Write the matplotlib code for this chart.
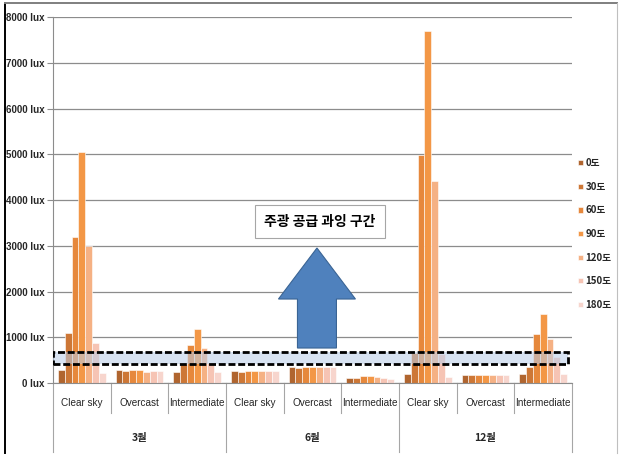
import numpy as np
import matplotlib
matplotlib.use("Agg")
import matplotlib.pyplot as plt
from matplotlib import font_manager
from matplotlib.patches import Rectangle, FancyArrow

# 방위각별 조도 측정값 [lux]
months = ["3월", "6월", "12월"]
skies = ["Clear sky", "Overcast", "Intermediate"]
angles = ["0도", "30도", "60도", "90도", "120도", "150도", "180도"]

lux_mar = [
    [280, 1100, 3200, 5050, 3000, 880, 210],   # Clear sky
    [280, 260, 280, 280, 250, 270, 270],       # Overcast
    [240, 420, 830, 1170, 770, 440, 230],      # Intermediate
]
lux_jun = [
    [270, 250, 270, 270, 260, 260, 260],
    [350, 330, 350, 360, 350, 340, 340],
    [120, 120, 150, 160, 130, 100, 80],
]
lux_dec = [
    [190, 650, 4980, 7700, 4420, 640, 130],
    [170, 170, 170, 180, 170, 170, 170],
    [195, 360, 1070, 1500, 960, 560, 200],
]
excess_band = (415, 680)   # 주광 공급 과잉 구간 하한/상한

colors = ["#B0652F", "#CD7736", "#E6883C", "#F39746", "#F5B184", "#F6C4B4", "#F7D5CD"]

names = {f.name for f in font_manager.fontManager.ttflist}
narrow = "Liberation Sans Narrow" if "Liberation Sans Narrow" in names else "Liberation Sans"
kr = ["Noto Sans CJK KR", "DejaVu Sans"]

fig = plt.figure(figsize=(6.21, 4.55), dpi=100)
ax = fig.add_axes([0.0853, 0.1582, 0.8357, 0.8044])

data = np.array(lux_mar + lux_jun + lux_dec)   # 9 x 7
ncat = data.shape[0]
bw = 0.83 / len(angles)
centers = np.arange(ncat) + 0.5
for j, name in enumerate(angles):
    ax.bar(centers + (j - 3) * bw, data[:, j], width=bw, color=colors[j],
           edgecolor="white", linewidth=0.4, label=name, zorder=2)

ax.set_xlim(0, ncat)
ax.set_ylim(0, 8000)
ax.set_yticks(np.arange(0, 8001, 1000))
ax.set_yticklabels(["%d lux" % v for v in range(0, 8001, 1000)],
                   family=narrow, fontsize=7, fontweight="bold", color="#262626")
ax.yaxis.grid(True, color="#8C8C8C", linewidth=0.9, zorder=0)
ax.set_axisbelow(True)
ax.tick_params(axis="y", length=4, color="#8C8C8C", pad=2)
ax.tick_params(axis="x", length=0, labelbottom=False)
for s in ["top", "right"]:
    ax.spines[s].set_visible(False)
ax.spines["left"].set_color("#8C8C8C")
ax.spines["bottom"].set_color("#8C8C8C")

# 계층형 x축 라벨
trans = ax.get_xaxis_transform()
for i in range(ncat):
    ax.text(centers[i], -0.054, skies[i % 3], transform=trans, ha="center",
            va="center", family=narrow, fontsize=7.2, color="#262626")
for i in range(ncat + 1):
    low = -0.189 if i % 3 == 0 else -0.082
    ax.plot([i, i], [0, low], transform=trans, color="#A6A6A6",
            linewidth=0.8, clip_on=False)
for m, name in enumerate(months):
    ax.text(m * 3 + 1.5, -0.150, name, transform=trans, ha="center",
            va="center", family=kr, fontsize=7.5, fontweight="bold", color="#262626")

# 과잉 구간 띠
band = Rectangle((0.0, excess_band[0]), 8.93, excess_band[1] - excess_band[0],
                 facecolor="#B9CDE8", alpha=0.55, edgecolor="none", zorder=3)
ax.add_patch(band)
ax.add_patch(Rectangle((0.0, excess_band[0]), 8.93, excess_band[1] - excess_band[0],
                       facecolor="none", edgecolor="black", linewidth=2,
                       linestyle=(0, (2.5, 1)), zorder=4))

# 화살표와 설명 상자
ax.add_patch(FancyArrow(4.578, 765, 0, 2186, width=0.676, head_width=1.335,
                        head_length=1115, length_includes_head=True,
                        facecolor="#4F81BD", edgecolor="#3A6494",
                        linewidth=0.8, zorder=5))
ax.text(4.63, 3530, "주광 공급 과잉 구간", ha="center", va="center",
        family=kr, fontsize=10, fontweight="bold", zorder=6,
        bbox=dict(boxstyle="square,pad=0.7", facecolor="white",
                  edgecolor="#A6A6A6", linewidth=0.8))

leg = ax.legend(loc="upper left", bbox_to_anchor=(1.005, 0.625), frameon=False,
                prop={"family": kr, "size": 7, "weight": "bold"}, handlelength=0.45,
                handleheight=0.45, handletextpad=0.3, labelspacing=1.4,
                borderaxespad=0)
for t in leg.get_texts():
    t.set_color("#262626")

# 바깥 테두리
fig.add_artist(plt.Line2D([0.008, 0.008], [0.005, 0.993], color="black", linewidth=1.4))
fig.add_artist(plt.Line2D([0.008, 0.993], [0.993, 0.993], color="#7F7F7F", linewidth=1.4))
fig.add_artist(plt.Line2D([0.993, 0.993], [0.005, 0.993], color="#BFBFBF", linewidth=0.8))

fig.savefig("out.png", dpi=100)
